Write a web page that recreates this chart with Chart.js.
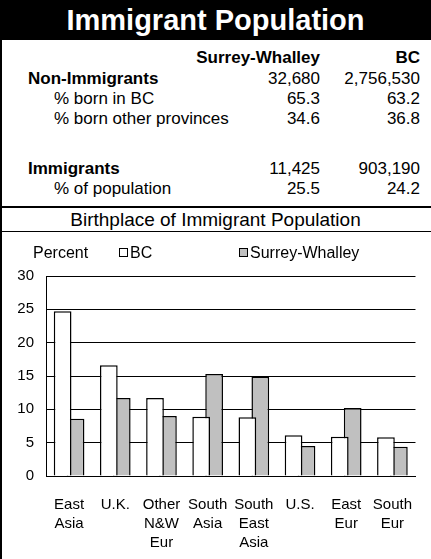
<!DOCTYPE html>
<html>
<head>
<meta charset="utf-8">
<script src="https://cdn.jsdelivr.net/npm/chart.js@4"></script>
<style>
  html, body { margin: 0; padding: 0; background: #fff; }
  body { width: 431px; height: 559px; position: relative; overflow: hidden;
         font-family: "Liberation Sans", Arial, sans-serif; color: #000; }
  .bar { position: absolute; left: 0; top: 0; width: 431px; height: 40px; background: #000;
         color: #fff; font-weight: bold; font-size: 29px; line-height: 40px; text-align: center; }
  .cell { position: absolute; font-size: 17px; line-height: 20px; white-space: nowrap; }
  .b { font-weight: bold; }
  .r { text-align: right; }
  .hline { position: absolute; left: 0; width: 431px; background: #000; }
  .vline { position: absolute; left: 0; top: 40px; width: 2px; height: 519px; background: #000; }
  .sub { position: absolute; left: 0; width: 431px; top: 208px; font-size: 19px; line-height: 23px; text-align: center; }
  #chart { position: absolute; left: 0; top: 232px; }
</style>
</head>
<body>
<div class="bar">Immigrant Population</div>
<div id="table"></div>
<div class="hline" style="top:206px;height:2px"></div>
<div class="sub">Birthplace of Immigrant Population</div>
<div class="hline" style="top:231px;height:1px"></div>
<div class="vline"></div>
<canvas id="chart" width="431" height="327"></canvas>
<script>
// summary table
const tableHeads = ["Surrey-Whalley", "BC"];
const rowLabels = ["Non-Immigrants", "% born in BC", "% born other provinces", "Immigrants", "% of population"];
const rowBold = [true, false, false, true, false];
const surreyRow = ["32,680", "65.3", "34.6", "11,425", "25.5"];
const bcRow = ["2,756,530", "63.2", "36.8", "903,190", "24.2"];

// chart
const categories = [["East", "Asia"], ["U.K."], ["Other", "N&W", "Eur"], ["South", "Asia"],
  ["South", "East", "Asia"], ["U.S."], ["East", "Eur"], ["South", "Eur"]];
const bcPct = [24.7, 16.6, 11.7, 8.9, 8.8, 6.1, 5.9, 5.8];
const surreyPct = [8.6, 11.7, 9.0, 15.3, 14.9, 4.5, 10.2, 4.4];
const seriesNames = ["BC", "Surrey-Whalley"];
const yTitle = "Percent";

// build the table
const table = document.getElementById("table");
const rowTops = [69, 89, 109, 159, 179];
function cell(text, cls, style) {
  const d = document.createElement("div");
  d.className = "cell " + cls;
  d.textContent = text;
  d.setAttribute("style", style);
  table.appendChild(d);
}
cell(tableHeads[0], "b r", "top:48px;right:111px");
cell(tableHeads[1], "b r", "top:48px;right:11px");
rowLabels.forEach((lab, i) => {
  cell(lab, rowBold[i] ? "b" : "", "top:" + rowTops[i] + "px;left:" + (rowBold[i] ? 28 : 54) + "px");
  cell(surreyRow[i], "r", "top:" + rowTops[i] + "px;right:111px");
  cell(bcRow[i], "r", "top:" + rowTops[i] + "px;right:11px");
});

const font = '"Liberation Sans", Arial, sans-serif';

// "Percent" label and the legend row above the plot
const topLegend = {
  id: "topLegend",
  afterDraw(chart) {
    const ctx = chart.ctx;
    const xs = [119, 239];
    ctx.save();
    ctx.font = "16px " + font;
    ctx.fillStyle = "#000";
    ctx.textBaseline = "alphabetic";
    ctx.fillText(yTitle, 33, 26);
    chart.data.datasets.forEach((ds, i) => {
      ctx.fillStyle = ds.backgroundColor;
      ctx.fillRect(xs[i] + 0.5, 16.5, 8, 8);
      ctx.strokeStyle = "#000";
      ctx.lineWidth = 1;
      ctx.strokeRect(xs[i] + 0.5, 16.5, 8, 8);
      ctx.fillStyle = "#000";
      ctx.fillText(ds.label, xs[i] + 11, 26);
    });
    ctx.restore();
  }
};

// bars overlap a little, like the original
const barStyle = { borderColor: "#000", borderWidth: 1.5, categoryPercentage: 0.56, barPercentage: 1.37 };

new Chart(document.getElementById("chart"), {
  type: "bar",
  data: {
    labels: categories,
    datasets: [
      { label: seriesNames[0], data: bcPct, backgroundColor: "#ffffff", ...barStyle },
      { label: seriesNames[1], data: surreyPct, backgroundColor: "#c0c0c0", ...barStyle },
    ],
  },
  options: {
    responsive: false,
    animation: false,
    layout: { padding: { top: 44, left: 0, right: 0, bottom: 0 } },
    plugins: { legend: { display: false }, tooltip: { enabled: false } },
    scales: {
      x: {
        grid: { display: false, drawTicks: false },
        border: { color: "#000", width: 1 },
        ticks: { color: "#000", font: { family: font, size: 15, lineHeight: 1.27 },
                 padding: 19, maxRotation: 0, autoSkip: false },
        afterFit: (s) => { s.height = 83; },
      },
      y: {
        min: 0,
        max: 30,
        grid: { color: "#000", drawTicks: false },
        border: { color: "#000", width: 1 },
        ticks: { stepSize: 5, color: "#000", font: { family: font, size: 15 }, padding: 12 },
        afterFit: (s) => { s.width = 46; },
      },
    },
  },
  plugins: [topLegend],
});
</script>
</body>
</html>
